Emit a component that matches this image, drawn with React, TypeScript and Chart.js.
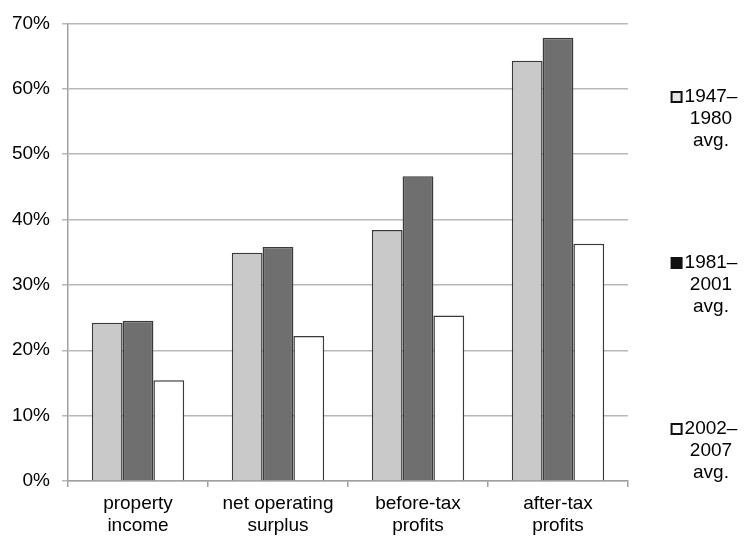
import React, { useEffect, useRef } from "react";
import { Chart, registerables } from "chart.js";

Chart.register(...registerables);

const categories: string[][] = [
  ["property", "income"],
  ["net operating", "surplus"],
  ["before-tax", "profits"],
  ["after-tax", "profits"],
];

const series1947_1980 = [24.2, 34.9, 38.4, 64.3];
const series1981_2001 = [24.5, 35.8, 46.6, 67.8];
const series2002_2007 = [15.4, 22.2, 25.3, 36.3];

const legendLines: string[][] = [
  ["1947–", "1980", "avg."],
  ["1981–", "2001", "avg."],
  ["2002–", "2007", "avg."],
];

const yTicks = [0, 10, 20, 30, 40, 50, 60, 70];

const FONT = "'Liberation Sans', Arial, sans-serif";

const legendPlugin = {
  id: "sideLegend",
  afterDraw(chart: any) {
    const ctx = chart.ctx;
    const tops = [97, 263, 429];
    const cx = 711;
    const lh = 22;
    ctx.save();
    ctx.font = `19px ${FONT}`;
    ctx.textBaseline = "middle";
    ctx.textAlign = "center";
    ctx.fillStyle = "#000";
    chart.data.datasets.forEach((ds: any, i: number) => {
      const lines: string[] = ds.legendLines;
      const y0 = tops[i];
      lines.forEach((t, j) => {
        ctx.fillText(t, cx, y0 + j * lh);
      });
      const w0 = ctx.measureText(lines[0]).width;
      const sx = cx - w0 / 2 - 13;
      ctx.fillStyle = i === 1 ? "#111" : i === 0 ? "#e6e6e6" : "#ffffff";
      ctx.fillRect(sx, y0 - 5, 10, 10);
      ctx.strokeStyle = "#111";
      ctx.lineWidth = 2;
      ctx.strokeRect(sx, y0 - 5, 10, 10);
      ctx.fillStyle = "#000";
    });
    ctx.restore();
  },
};

export default function App() {
  const ref = useRef<HTMLCanvasElement>(null);

  useEffect(() => {
    if (!ref.current) return;
    const chart = new Chart(ref.current, {
      type: "bar",
      data: {
        labels: categories,
        datasets: [
          {
            label: "1947–1980 avg.",
            data: series1947_1980,
            backgroundColor: "#c9c9c9",
            borderColor: "#3a3a3a",
            borderWidth: 1.5,
            legendLines: legendLines[0],
          } as any,
          {
            label: "1981–2001 avg.",
            data: series1981_2001,
            backgroundColor: "#6f6f6f",
            borderColor: "#3a3a3a",
            borderWidth: 1.5,
            legendLines: legendLines[1],
          } as any,
          {
            label: "2002–2007 avg.",
            data: series2002_2007,
            backgroundColor: "#ffffff",
            borderColor: "#3a3a3a",
            borderWidth: 1.5,
            legendLines: legendLines[2],
          } as any,
        ],
      },
      options: {
        animation: false,
        responsive: true,
        maintainAspectRatio: false,
        datasets: { bar: { categoryPercentage: 0.66, barPercentage: 1 } },
        layout: { padding: { top: 17, right: 122, left: 0, bottom: 0 } },
        plugins: {
          legend: { display: false },
          tooltip: { enabled: false },
        },
        scales: {
          x: {
            offset: true,
            grid: {
              offset: true,
              drawOnChartArea: false,
              drawTicks: true,
              tickLength: 6,
              color: "#a0a0a0",
              lineWidth: 1.5,
            },
            border: { color: "#a0a0a0", width: 1.5 },
            ticks: {
              padding: 5,
              color: "#000",
              font: { family: FONT, size: 19, lineHeight: 1.2 },
              maxRotation: 0,
              autoSkip: false,
            },
            afterFit: (s: any) => {
              s.height = 59;
            },
          },
          y: {
            min: yTicks[0],
            max: yTicks[yTicks.length - 1],
            afterBuildTicks: (s: any) => {
              s.ticks = yTicks.map((v) => ({ value: v }));
            },
            grid: {
              color: "#b8b8b8",
              lineWidth: 1.5,
              tickLength: 6,
              drawTicks: true,
            },
            border: { color: "#a0a0a0", width: 1.5 },
            ticks: {
              padding: 12,
              color: "#000",
              font: { family: FONT, size: 19 },
              callback: (v: any) => `${v}%`,
            },
            afterFit: (s: any) => {
              s.width = 68;
            },
          },
        },
      },
      plugins: [legendPlugin],
    });
    return () => chart.destroy();
  }, []);

  return (
    <div
      style={{
        position: "absolute",
        left: 0,
        top: 0,
        width: 750,
        height: 540,
        background: "#fff",
      }}
    >
      <canvas ref={ref} />
    </div>
  );
}
